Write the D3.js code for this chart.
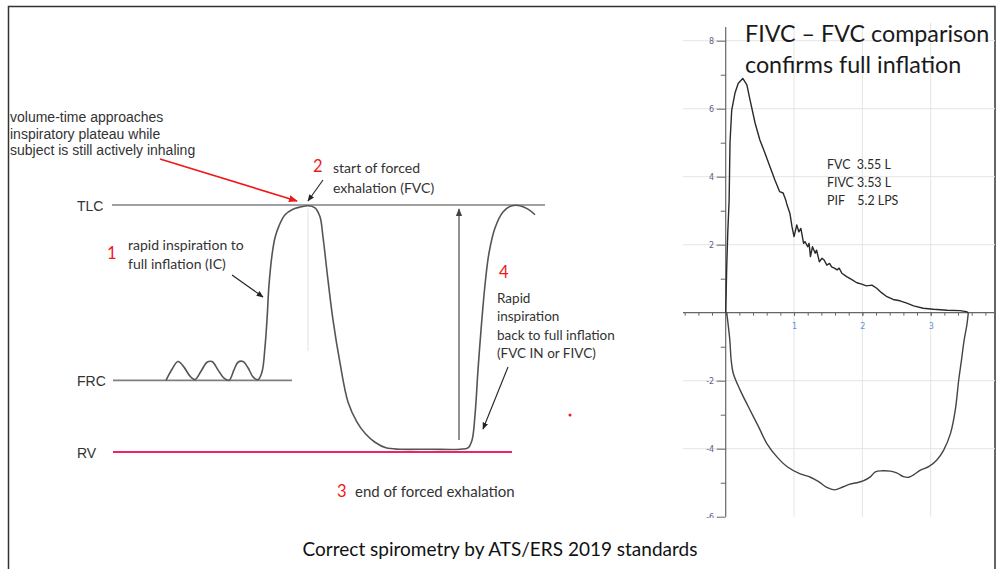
<!DOCTYPE html>
<html>
<head>
<meta charset="utf-8">
<script src="https://cdn.jsdelivr.net/npm/d3@7"></script>
<style>
html, body { margin: 0; padding: 0; background: #fff; }
svg { display: block; }
</style>
</head>
<body>
<svg id="chart" width="999" height="569"></svg>
<script>
// ---- volume-time schematic (left) : time in s, volume in L ----
var vtTime   = [0, 0.6, 1.2, 1.8, 2.4, 2.9, 3.5, 4.1, 4.6, 5.2, 5.8, 6.3, 6.8, 7.2, 7.7, 8.2, 8.7, 9.2, 9.6,
                9.9, 10.1, 10.3, 10.6, 10.9, 11.3, 11.9, 12.7, 13.4, 14.2, 14.9, 15.4, 15.7, 16.2, 16.7, 17.4,
                18.2, 19.1, 19.9, 20.9, 22.0, 23.4, 26.4, 29.4, 30.2, 30.6, 30.9, 31.2, 31.5, 31.9, 32.3,
                32.9, 33.7, 34.6, 35.4, 36.2, 36.9];
var vtVolume = [2.53, 2.69, 2.80, 2.72, 2.59, 2.54, 2.66, 2.79, 2.80, 2.68, 2.56, 2.53, 2.68, 2.79, 2.80, 2.71, 2.58, 2.54, 2.65,
                3.01, 3.40, 3.90, 4.33, 4.58, 4.75, 4.91, 4.99, 5.02, 5.04, 5.01, 4.88, 4.59, 3.97, 3.40, 2.78,
                2.22, 1.93, 1.77, 1.64, 1.56, 1.54, 1.54, 1.54, 1.56, 1.67, 2.03, 2.68, 3.25, 3.90, 4.36,
                4.72, 4.95, 5.04, 5.04, 4.99, 4.91];

var levelNames  = ["TLC", "FRC", "RV"];
var levelVolume = [5.05, 2.53, 1.5];
var levelFrom   = [-5.4, -5.3, -5.3];
var levelTo     = [37.9, 12.6, 34.6];

// ---- flow-volume loop (right) : volume in L, flow in L/s ----
var expVolume = [0, 0.015, 0.03, 0.05, 0.063, 0.088, 0.136, 0.184, 0.25, 0.31, 0.356, 0.43, 0.50, 0.574, 0.648, 0.72,
                 0.79, 0.84, 0.88, 0.89, 0.94, 0.97, 1.0, 1.04, 1.07, 1.10, 1.14, 1.16, 1.20, 1.22, 1.24, 1.27, 1.31,
                 1.33, 1.37, 1.41, 1.44, 1.48, 1.52, 1.55, 1.59, 1.63, 1.66, 1.70, 1.77, 1.84, 1.92, 1.99, 2.06,
                 2.14, 2.21, 2.28, 2.36, 2.45, 2.55, 2.65, 2.75, 2.89, 3.04, 3.24, 3.43, 3.52, 3.55];
var expFlow   = [0, 1.35, 2.34, 3.3, 5.0, 5.96, 6.46, 6.75, 6.89, 6.70, 6.26, 5.58, 5.08, 4.70, 4.29, 3.90,
                 3.56, 3.52, 3.31, 3.22, 2.92, 2.53, 2.24, 2.58, 2.38, 2.48, 2.04, 2.09, 1.94, 2.04, 1.65, 1.94, 1.75,
                 1.84, 1.50, 1.60, 1.55, 1.40, 1.45, 1.35, 1.31, 1.26, 1.31, 1.16, 1.06, 0.98, 0.88, 0.84, 0.79,
                 0.81, 0.72, 0.59, 0.47, 0.39, 0.35, 0.28, 0.20, 0.13, 0.10, 0.07, 0.06, 0.03, 0];
var inspVolume = [3.55, 3.53, 3.49, 3.45, 3.41, 3.36, 3.29, 3.19, 3.09, 2.97, 2.85, 2.75, 2.68, 2.60, 2.51, 2.41,
                  2.29, 2.19, 2.12, 2.02, 1.92, 1.82, 1.72, 1.59, 1.48, 1.36, 1.24, 1.09, 0.90, 0.75, 0.60, 0.48,
                  0.33, 0.21, 0.11, 0.08, 0.06, 0.015];
var inspFlow   = [0, -0.35, -0.8, -1.4, -1.98, -2.86, -3.55, -4.04, -4.33, -4.53, -4.63, -4.77, -4.84, -4.82, -4.72, -4.66,
                  -4.65, -4.68, -4.82, -4.94, -5.0, -5.04, -5.12, -5.21, -5.14, -4.97, -4.84, -4.74, -4.53, -4.24, -3.84, -3.35,
                  -2.76, -2.27, -1.78, -1.39, -0.80, 0];

var flowMajor   = [-6, -4, -2, 2, 4, 6, 8];
var flowMinor   = [-5, -3, -1, 1, 3, 5, 7];
var volumeMajor = [1, 2, 3];
var volumeMinor = d3.range(-3, 20).map(function (i) { return +(i * 0.2).toFixed(1); });

var stats = ["FVC  3.55 L", "FIVC 3.53 L", "PIF    5.2 LPS"];

var svg = d3.select("#chart");
var defs = svg.append("defs");

function addMarker(id, color, size) {
    defs.append("marker")
        .attr("id", id)
        .attr("viewBox", "0 0 10 10")
        .attr("refX", 9).attr("refY", 5)
        .attr("markerWidth", size).attr("markerHeight", size)
        .attr("markerUnits", "userSpaceOnUse")
        .attr("orient", "auto")
        .append("path").attr("d", "M0,1 L10,5 L0,9 Z").attr("fill", color);
}
addMarker("arrBlack", "#222", 7);
addMarker("arrRed", "#f01818", 9);
addMarker("arrGrey", "#444", 8);

// frame
svg.append("rect")
    .attr("x", 8.5).attr("y", 6.5).attr("width", 986.5).attr("height", 600)
    .attr("fill", "none").attr("stroke", "#333").attr("stroke-width", 1.5);

// ================= left panel =================
var xL = d3.scaleLinear().domain([0, 37]).range([166, 536]);
var yL = d3.scaleLinear().domain([1.5, 5.05]).range([452, 205]);

var left = svg.append("g");

levelNames.forEach(function (name, i) {
    left.append("line")
        .attr("x1", xL(levelFrom[i])).attr("x2", xL(levelTo[i]))
        .attr("y1", yL(levelVolume[i])).attr("y2", yL(levelVolume[i]))
        .attr("stroke", name == "RV" ? "#f0206c" : "#808080")
        .attr("stroke-width", name == "RV" ? 2 : 1.6);
    left.append("text")
        .attr("x", 77).attr("y", yL(levelVolume[i]) + 5.5)
        .text(name)
        .style("font-family", "'Liberation Sans', Arial, sans-serif")
        .style("font-size", "14px").style("fill", "#333");
});

// faint marker line under the TLC peak
left.append("line")
    .attr("x1", xL(14.2)).attr("x2", xL(14.2))
    .attr("y1", yL(5.0)).attr("y2", yL(2.95))
    .attr("stroke", "#e2e2e2").attr("stroke-width", 1);

var vtLine = d3.line()
    .x(function (d) { return xL(d[0]); })
    .y(function (d) { return yL(d[1]); })
    .curve(d3.curveCatmullRom.alpha(0.5));

left.append("path")
    .datum(vtTime.map(function (t, i) { return [t, vtVolume[i]]; }))
    .attr("d", vtLine)
    .attr("fill", "none").attr("stroke", "#555").attr("stroke-width", 1.6);

// vertical FIVC arrow RV -> TLC
left.append("line")
    .attr("x1", xL(29.3)).attr("x2", xL(29.3))
    .attr("y1", 440).attr("y2", 209)
    .attr("stroke", "#555").attr("stroke-width", 1.3)
    .attr("marker-end", "url(#arrGrey)");

// annotation arrows
left.append("line").attr("x1", 160).attr("y1", 159).attr("x2", 297).attr("y2", 201)
    .attr("stroke", "#f01818").attr("stroke-width", 1.6).attr("marker-end", "url(#arrRed)");
left.append("line").attr("x1", 323).attr("y1", 180).attr("x2", 308).attr("y2", 201)
    .attr("stroke", "#222").attr("stroke-width", 1.1).attr("marker-end", "url(#arrBlack)");
left.append("line").attr("x1", 232).attr("y1", 275).attr("x2", 263).attr("y2", 297)
    .attr("stroke", "#222").attr("stroke-width", 1.1).attr("marker-end", "url(#arrBlack)");
left.append("line").attr("x1", 508).attr("y1", 367).attr("x2", 483).attr("y2", 429)
    .attr("stroke", "#222").attr("stroke-width", 1.1).attr("marker-end", "url(#arrBlack)");

function textBlock(g, x, y, lines, step, font, size, color) {
    var t = g.append("text")
        .style("font-family", font).style("font-size", size + "px").style("fill", color);
    lines.forEach(function (s, i) {
        t.append("tspan").attr("x", x).attr("y", y + i * step).text(s);
    });
    return t;
}

var arial = "'Liberation Sans', Arial, sans-serif";
var calibri = "Lato, 'Open Sans', sans-serif";

textBlock(left, 10, 122, ["volume-time approaches", "inspiratory plateau while", "subject is still actively inhaling"],
    16.7, arial, 14, "#333");

textBlock(left, 107, 259, ["1"], 0, calibri, 16.5, "#f01818");
textBlock(left, 128, 250, ["rapid inspiration to", "full inflation (IC)"], 19, calibri, 14, "#333");

textBlock(left, 313, 172, ["2"], 0, calibri, 16.5, "#f01818");
textBlock(left, 333, 173, ["start of forced", "exhalation (FVC)"], 19.5, calibri, 14, "#333");

textBlock(left, 499, 278, ["4"], 0, calibri, 16.5, "#f01818");
textBlock(left, 497, 303, ["Rapid", "inspiration", "back to full inflation", "(FVC IN or FIVC)"], 18.3, calibri, 13.5, "#333");

textBlock(left, 337, 497, ["3"], 0, calibri, 16.5, "#f01818");
textBlock(left, 355, 497, ["end of forced exhalation"], 0, calibri, 15, "#333");

left.append("circle").attr("cx", 570).attr("cy", 415).attr("r", 1.5).attr("fill", "#f01818");

// ================= right panel =================
var xR = d3.scaleLinear().domain([0, 3]).range([725.7, 930.7]);
var yR = d3.scaleLinear().domain([-6, 8]).range([516.7, 40.7]);

defs.append("clipPath").attr("id", "rightClip")
    .append("rect").attr("x", 680).attr("y", 0).attr("width", 315).attr("height", 518);

var right = svg.append("g").attr("clip-path", "url(#rightClip)");

// grid
right.selectAll("line.hgrid")
    .data(flowMajor.filter(function (d) { return d > -6; }))
    .enter().append("line").attr("class", "hgrid")
    .attr("x1", 683).attr("x2", 995)
    .attr("y1", function (d) { return yR(d); }).attr("y2", function (d) { return yR(d); })
    .attr("stroke", "#e4e4e4").attr("stroke-width", 1);

right.selectAll("line.vgrid")
    .data(volumeMajor)
    .enter().append("line").attr("class", "vgrid")
    .attr("x1", function (d) { return xR(d); }).attr("x2", function (d) { return xR(d); })
    .attr("y1", 23).attr("y2", yR(-6))
    .attr("stroke", "#e4e4e4").attr("stroke-width", 1);

// axes lines
right.append("line")
    .attr("x1", xR(0)).attr("x2", xR(0)).attr("y1", 27).attr("y2", yR(-6))
    .attr("stroke", "#666").attr("stroke-width", 1.2);
right.append("line")
    .attr("x1", 683).attr("x2", 995).attr("y1", yR(0)).attr("y2", yR(0))
    .attr("stroke", "#666").attr("stroke-width", 1.2);

// y ticks
var yMajorAxis = d3.axisLeft(yR).tickValues(flowMajor).tickSize(9).tickSizeOuter(0).tickPadding(2.5)
    .tickFormat(function (d) { return String(d); });
var yMinorAxis = d3.axisLeft(yR).tickValues(flowMinor).tickSize(5).tickSizeOuter(0).tickFormat("");

var gy = right.append("g").attr("transform", "translate(" + xR(0) + ",0)").call(yMajorAxis);
right.append("g").attr("transform", "translate(" + xR(0) + ",0)").call(yMinorAxis);

// x ticks
var xMinorAxis = d3.axisBottom(xR).tickValues(volumeMinor).tickSize(3).tickSizeOuter(0).tickFormat("");
var xMajorAxis = d3.axisBottom(xR).tickValues(volumeMajor).tickSize(3).tickSizeOuter(0).tickPadding(8)
    .tickFormat(function (d) { return String(d); });
right.append("g").attr("transform", "translate(0," + yR(0) + ")").call(xMinorAxis);
var gx = right.append("g").attr("transform", "translate(0," + yR(0) + ")").call(xMajorAxis);

right.selectAll(".domain").remove();
right.selectAll(".tick line").attr("stroke", "#666");
gy.selectAll("text").style("font-family", "'DejaVu Sans', sans-serif").style("font-size", "8px").style("fill", "#6a5a80");
gx.selectAll("text").style("font-family", "'DejaVu Sans', sans-serif").style("font-size", "8px").style("fill", "#5f95cf");

// loop
var fvLine = d3.line()
    .x(function (d) { return xR(d[0]); })
    .y(function (d) { return yR(d[1]); });

right.append("path")
    .datum(expVolume.map(function (v, i) { return [v, expFlow[i]]; }))
    .attr("d", fvLine)
    .attr("fill", "none").attr("stroke", "#2a2a2a").attr("stroke-width", 1.4).attr("stroke-linejoin", "round");

right.append("path")
    .datum(inspVolume.map(function (v, i) { return [v, inspFlow[i]]; }))
    .attr("d", fvLine.curve(d3.curveCatmullRom.alpha(0.5)))
    .attr("fill", "none").attr("stroke", "#444").attr("stroke-width", 1.4);

// title and stats
textBlock(svg, 745, 42, ["FIVC \u2013 FVC comparison", "confirms full inflation"], 31, calibri, 23.3, "#1a1a1a");
textBlock(svg, 827, 169, stats, 18, calibri, 12.4, "#2a2a2a").style("white-space", "pre");

// caption
svg.append("text")
    .attr("x", 500).attr("y", 556)
    .attr("text-anchor", "middle")
    .text("Correct spirometry by ATS/ERS 2019 standards")
    .style("font-family", calibri).style("font-size", "19px").style("fill", "#111");
</script>
</body>
</html>
